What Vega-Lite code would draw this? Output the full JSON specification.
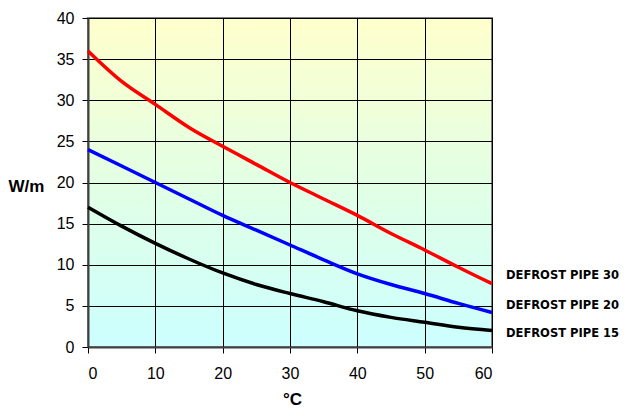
{
  "$schema": "https://vega.github.io/schema/vega-lite/v6.json",
  "autosize": {"type": "none"},
  "width": 404,
  "height": 329,
  "padding": {"left": 88, "top": 18, "right": 134, "bottom": 69},
  "background": "white",
  "view": {
    "fill": {"gradient": "linear", "x1": 0, "y1": 0, "x2": 0, "y2": 1,
      "stops": [{"offset": 0, "color": "#FFFFCC"}, {"offset": 0.5, "color": "#E2FFE4"}, {"offset": 1, "color": "#CCFFFF"}]},
    "stroke": "#808080",
    "strokeWidth": 2
  },
  "config": {
    "font": "Liberation Sans",
    "axis": {
      "labelFont": "Liberation Sans",
      "labelFontSize": 16,
      "labelColor": "#000000",
      "gridColor": "#000000",
      "gridOpacity": 1,
      "gridWidth": 1,
      "tickColor": "#000000",
      "tickSize": 6,
      "domainColor": "#404040",
      "domainWidth": 2,
      "titleFont": "Liberation Sans",
      "titleFontSize": 17,
      "titleFontWeight": "bold",
      "titleColor": "#000000"
    }
  },
  "datasets": {
    "lines": [
      {"t": 0, "w": 36.0, "s": "DEFROST PIPE 30"},
      {"t": 5, "w": 32.3, "s": "DEFROST PIPE 30"},
      {"t": 10, "w": 29.5, "s": "DEFROST PIPE 30"},
      {"t": 15, "w": 26.7, "s": "DEFROST PIPE 30"},
      {"t": 20, "w": 24.4, "s": "DEFROST PIPE 30"},
      {"t": 25, "w": 22.2, "s": "DEFROST PIPE 30"},
      {"t": 30, "w": 20.0, "s": "DEFROST PIPE 30"},
      {"t": 35, "w": 18.0, "s": "DEFROST PIPE 30"},
      {"t": 40, "w": 16.0, "s": "DEFROST PIPE 30"},
      {"t": 45, "w": 13.8, "s": "DEFROST PIPE 30"},
      {"t": 50, "w": 11.8, "s": "DEFROST PIPE 30"},
      {"t": 55, "w": 9.7, "s": "DEFROST PIPE 30"},
      {"t": 60, "w": 7.7, "s": "DEFROST PIPE 30"},
      {"t": 0, "w": 24.0, "s": "DEFROST PIPE 20"},
      {"t": 5, "w": 22.0, "s": "DEFROST PIPE 20"},
      {"t": 10, "w": 20.0, "s": "DEFROST PIPE 20"},
      {"t": 15, "w": 18.0, "s": "DEFROST PIPE 20"},
      {"t": 20, "w": 16.0, "s": "DEFROST PIPE 20"},
      {"t": 25, "w": 14.2, "s": "DEFROST PIPE 20"},
      {"t": 30, "w": 12.4, "s": "DEFROST PIPE 20"},
      {"t": 35, "w": 10.6, "s": "DEFROST PIPE 20"},
      {"t": 40, "w": 8.9, "s": "DEFROST PIPE 20"},
      {"t": 45, "w": 7.6, "s": "DEFROST PIPE 20"},
      {"t": 50, "w": 6.5, "s": "DEFROST PIPE 20"},
      {"t": 55, "w": 5.3, "s": "DEFROST PIPE 20"},
      {"t": 60, "w": 4.2, "s": "DEFROST PIPE 20"},
      {"t": 0, "w": 17.0, "s": "DEFROST PIPE 15"},
      {"t": 5, "w": 14.7, "s": "DEFROST PIPE 15"},
      {"t": 10, "w": 12.6, "s": "DEFROST PIPE 15"},
      {"t": 15, "w": 10.7, "s": "DEFROST PIPE 15"},
      {"t": 20, "w": 9.0, "s": "DEFROST PIPE 15"},
      {"t": 25, "w": 7.6, "s": "DEFROST PIPE 15"},
      {"t": 30, "w": 6.5, "s": "DEFROST PIPE 15"},
      {"t": 35, "w": 5.5, "s": "DEFROST PIPE 15"},
      {"t": 40, "w": 4.4, "s": "DEFROST PIPE 15"},
      {"t": 45, "w": 3.6, "s": "DEFROST PIPE 15"},
      {"t": 50, "w": 3.0, "s": "DEFROST PIPE 15"},
      {"t": 55, "w": 2.4, "s": "DEFROST PIPE 15"},
      {"t": 60, "w": 2.0, "s": "DEFROST PIPE 15"}
    ],
    "labels": [
      {"t": 60, "w": 8.6, "s": "DEFROST PIPE 30"},
      {"t": 60, "w": 5.0, "s": "DEFROST PIPE 20"},
      {"t": 60, "w": 1.6, "s": "DEFROST PIPE 15"}
    ]
  },
  "layer": [
    {
      "data": {"name": "lines"},
      "mark": {"type": "line", "interpolate": "monotone", "strokeWidth": 3.5, "clip": false},
      "encoding": {
        "x": {"field": "t", "type": "quantitative",
          "scale": {"domain": [0, 60], "nice": false},
          "axis": {"values": [0, 10, 20, 30, 40, 50, 60], "labelPadding": 12, "title": "°C", "titleX": 204, "titleY": 52, "titleAnchor": null, "titleAlign": "center", "titleBaseline": "middle"}},
        "y": {"field": "w", "type": "quantitative",
          "scale": {"domain": [0, 40], "nice": false},
          "axis": {"values": [0, 5, 10, 15, 20, 25, 30, 35, 40], "labelPadding": 8, "title": "W/m", "titleAngle": 0, "titleX": -80, "titleY": 168, "titleAlign": "left", "titleBaseline": "middle"}},
        "color": {"field": "s", "type": "nominal",
          "scale": {"domain": ["DEFROST PIPE 30", "DEFROST PIPE 20", "DEFROST PIPE 15"], "range": ["#FF0000", "#0000FF", "#000000"]},
          "legend": null}
      }
    },
    {
      "data": {"name": "labels"},
      "mark": {"type": "text", "align": "left", "baseline": "middle", "dx": 14, "font": "DejaVu Sans", "fontWeight": "bold", "fontSize": 11.5, "color": "#000000", "clip": false},
      "encoding": {
        "x": {"field": "t", "type": "quantitative"},
        "y": {"field": "w", "type": "quantitative"},
        "text": {"field": "s"}
      }
    }
  ]
}
